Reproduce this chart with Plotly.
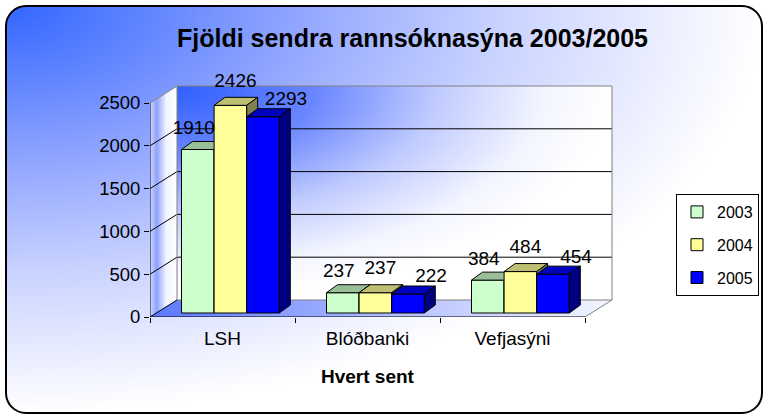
import base64
import plotly.graph_objects as go

# ---------------- data ----------------
categories = ["LSH", "Blóðbanki", "Vefjasýni"]
series_names = ["2003", "2004", "2005"]
values_2003 = [1910, 237, 384]
values_2004 = [2426, 237, 484]
values_2005 = [2293, 222, 454]
y_tick_values = [0, 500, 1000, 1500, 2000, 2500]

series_values = [values_2003, values_2004, values_2005]

# ---------------- styles ----------------
front_colors = ["#CCFFCC", "#FFFF99", "#0000FF"]
top_colors = ["#99BF99", "#BFBF73", "#0000BF"]
side_colors = ["#668066", "#808050", "#000080"]
FONT = "Arial, 'Liberation Sans', sans-serif"

# ---------------- geometry (pixels -> axis units) ----------------
W, H = 764, 417
PLOT_L, PLOT_R, PLOT_T, PLOT_B = 150, 615, 70, 317
CAT_PX = 145.0
PX_PER_UNIT = 214.0 / 2500.0
X0 = -0.5
X_MAX = X0 + (PLOT_R - PLOT_L) / CAT_PX
Y_MAX = (PLOT_B - PLOT_T) / PX_PER_UNIT
WALL_DX = 27 / CAT_PX
WALL_DY = 17 / PX_PER_UNIT
BAR_W = 32.6 / CAT_PX
BAR_OFF0 = -41 / CAT_PX
BAR_BASE = 4 / PX_PER_UNIT
BAR_DX = 11 / CAT_PX
BAR_DY = 8 / PX_PER_UNIT
LABEL_DX = [p / CAT_PX for p in (-4, 5, 23)]
LABEL_DY = [p / PX_PER_UNIT for p in (20, 23.4, 16.3)]

n = len(categories)
x_pos = list(range(n))
top_tick = y_tick_values[-1]
bx0, bx1 = X0 + WALL_DX, X0 + n + WALL_DX
by0, by1 = WALL_DY, top_tick + WALL_DY

fig = go.Figure()

# ---------------- walls / floor (base subplot) ----------------
fig.add_trace(go.Scatter(
    x=[X0, X0, bx0, bx0, X0], y=[0, top_tick, by1, by0, 0],
    mode="lines", fill="toself", line=dict(width=0),
    fillgradient=dict(type="horizontal",
                      colorscale=[[0, "#d0d8ff"], [0.25, "#8ea2ff"], [0.6, "#f2f4ff"], [1, "#ffffff"]]),
    hoverinfo="skip", showlegend=False))
fig.add_trace(go.Scatter(
    x=[X0, X0 + n, bx1, bx0, X0], y=[0, 0, by0, by0, 0],
    mode="lines", fill="toself", line=dict(width=0),
    fillgradient=dict(type="horizontal",
                      colorscale=[[0, "#5a78ff"], [0.5, "#aebbff"], [1, "#f4f6ff"]]),
    hoverinfo="skip", showlegend=False))

# grid lines on back wall and left wall
gx, gy = [], []
for v in y_tick_values[1:-1]:
    gx += [X0, bx0, bx1, None]
    gy += [v, v + WALL_DY, v + WALL_DY, None]
fig.add_trace(go.Scatter(x=gx, y=gy, mode="lines", line=dict(color="black", width=1),
                         hoverinfo="skip", showlegend=False))

# grey wall edges
ex = [X0, bx0, bx1, bx1, None, bx0, bx0, None, bx0, bx1, X0 + n]
ey = [top_tick, by1, by1, by0, None, by0, by1, None, by0, by0, 0]
fig.add_trace(go.Scatter(x=ex, y=ey, mode="lines", line=dict(color="#808080", width=1),
                         hoverinfo="skip", showlegend=False))

# front axis lines + floor left edge
fig.add_trace(go.Scatter(
    x=[X0 + n, X0, X0, None, X0, bx0],
    y=[0, 0, top_tick, None, 0, by0],
    mode="lines", line=dict(color="black", width=1), hoverinfo="skip", showlegend=False))

# ---------------- bars, each series on its own overlaid subplot ----------------
for j, (name, vals) in enumerate(zip(series_names, series_values)):
    xa, ya = f"x{j + 2}", f"y{j + 2}"
    off = BAR_OFF0 + j * BAR_W
    fig.add_trace(go.Bar(
        x=x_pos, y=vals, base=[BAR_BASE] * n, width=BAR_W, offset=off,
        name=name, legendgroup=name, xaxis=xa, yaxis=ya,
        marker=dict(color=front_colors[j], line=dict(color="black", width=1))))
    tx, ty, sx, sy = [], [], [], []
    for i, v in enumerate(vals):
        xl = i + off
        xr = xl + BAR_W
        t = BAR_BASE + v
        tx += [xl, xr, xr + BAR_DX, xl + BAR_DX, xl, None]
        ty += [t, t, t + BAR_DY, t + BAR_DY, t, None]
        sx += [xr, xr, xr + BAR_DX, xr + BAR_DX, xr, None]
        sy += [BAR_BASE, t, t + BAR_DY, BAR_BASE + BAR_DY, BAR_BASE, None]
    fig.add_trace(go.Scatter(x=tx, y=ty, mode="lines", fill="toself", fillcolor=top_colors[j],
                             line=dict(color="black", width=1), xaxis=xa, yaxis=ya,
                             hoverinfo="skip", showlegend=False, legendgroup=name))
    fig.add_trace(go.Scatter(x=sx, y=sy, mode="lines", fill="toself", fillcolor=side_colors[j],
                             line=dict(color="black", width=1), xaxis=xa, yaxis=ya,
                             hoverinfo="skip", showlegend=False, legendgroup=name))

# data labels on top
lx, ly, lt = [], [], []
for j, vals in enumerate(series_values):
    for i, v in enumerate(vals):
        lx.append(i + BAR_OFF0 + (j + 0.5) * BAR_W + LABEL_DX[j])
        ly.append(BAR_BASE + v + LABEL_DY[j])
        lt.append(str(v))
fig.add_trace(go.Scatter(x=lx, y=ly, text=lt, mode="text", textposition="middle center",
                         textfont=dict(family=FONT, size=19, color="black"),
                         xaxis="x4", yaxis="y4", cliponaxis=False,
                         hoverinfo="skip", showlegend=False))

# ---------------- background images ----------------
paper_svg = f"""<svg xmlns="http://www.w3.org/2000/svg" width="{W}" height="{H}" viewBox="0 0 {W} {H}" preserveAspectRatio="none">
<defs><radialGradient id="g" cx="0" cy="0" r="1" gradientUnits="objectBoundingBox">
<stop offset="0" stop-color="#3366ff"/><stop offset="0.4" stop-color="#95a8ff"/>
<stop offset="0.65" stop-color="#c8d2ff"/><stop offset="0.9" stop-color="#f0f2ff"/>
<stop offset="1" stop-color="#ffffff"/></radialGradient></defs>
<rect x="6" y="6" width="756" height="407" rx="20" ry="20" fill="url(#g)" stroke="#000" stroke-width="2"/></svg>"""
wall_svg = """<svg xmlns="http://www.w3.org/2000/svg" width="100" height="100" viewBox="0 0 100 100" preserveAspectRatio="none">
<defs><radialGradient id="w" cx="0" cy="0" r="1" gradientUnits="objectBoundingBox">
<stop offset="0" stop-color="#2f5fff"/><stop offset="0.32" stop-color="#6a86ff"/>
<stop offset="0.6" stop-color="#c0cbff"/><stop offset="0.85" stop-color="#f4f6ff"/>
<stop offset="1" stop-color="#ffffff"/></radialGradient></defs>
<rect x="0" y="0" width="100" height="100" fill="url(#w)"/></svg>"""


def uri(svg):
    return "data:image/svg+xml;base64," + base64.b64encode(svg.encode("utf-8")).decode("ascii")


pw, ph = PLOT_R - PLOT_L, PLOT_B - PLOT_T
images = [
    dict(source=uri(paper_svg), xref="paper", yref="paper", x=-PLOT_L / pw, y=1 + PLOT_T / ph,
         sizex=W / pw, sizey=H / ph, xanchor="left", yanchor="top", sizing="stretch", layer="below"),
    dict(source=uri(wall_svg), xref="x", yref="y", x=bx0, y=by1, sizex=n, sizey=top_tick,
         xanchor="left", yanchor="top", sizing="stretch", layer="below"),
]

axis_common = dict(range=[X0, X_MAX], showgrid=False, zeroline=False, showline=False)
yaxis_common = dict(range=[0, Y_MAX], showgrid=False, zeroline=False, showline=False)

layout = dict(
    width=W, height=H, autosize=False,
    margin=dict(l=PLOT_L, r=W - PLOT_R, t=PLOT_T, b=H - PLOT_B, pad=0),
    paper_bgcolor="white", plot_bgcolor="rgba(0,0,0,0)",
    barmode="overlay",
    font=dict(family=FONT, color="black"),
    images=images,
    title=dict(text="<b>Fjöldi sendra rannsóknasýna 2003/2005</b>",
               x=412.5 / W, xanchor="center", y=1 - 38 / H, yanchor="middle",
               font=dict(family=FONT, size=25, color="black")),
    xaxis=dict(**axis_common, tickmode="array", tickvals=x_pos, ticktext=categories, ticks="",
               tickfont=dict(family=FONT, size=19), ticklabelstandoff=8, automargin=False,
               minor=dict(tickmode="linear", tick0=X0, dtick=1, ticks="outside", ticklen=5,
                          tickcolor="black", showgrid=False)),
    yaxis=dict(**yaxis_common, tickmode="array", tickvals=y_tick_values, ticks="outside",
               ticklen=5, tickcolor="black", tickfont=dict(family=FONT, size=18.5), automargin=False),
    legend=dict(xref="container", yref="container", x=676 / W, y=1 - 194 / H,
                xanchor="left", yanchor="top",
                bgcolor="white", bordercolor="black", borderwidth=1,
                font=dict(family=FONT, size=16), tracegroupgap=9, traceorder="grouped"),
    annotations=[dict(text="<b>Hvert sent</b>", x=1, xref="x", y=(PLOT_B - 376) / ph, yref="paper",
                      showarrow=False, xanchor="center", yanchor="middle",
                      font=dict(family=FONT, size=19, color="black"))],
    showlegend=True,
)
for k in (2, 3, 4):
    layout[f"xaxis{k}"] = dict(**axis_common, overlaying="x", visible=False, anchor=f"y{k}")
    layout[f"yaxis{k}"] = dict(**yaxis_common, overlaying="y", visible=False, anchor=f"x{k}")

fig.update_layout(**layout)
fig.write_html("out.html", config={"displayModeBar": False},
               post_script="document.body.style.margin='0px';document.body.style.overflow='hidden';")
